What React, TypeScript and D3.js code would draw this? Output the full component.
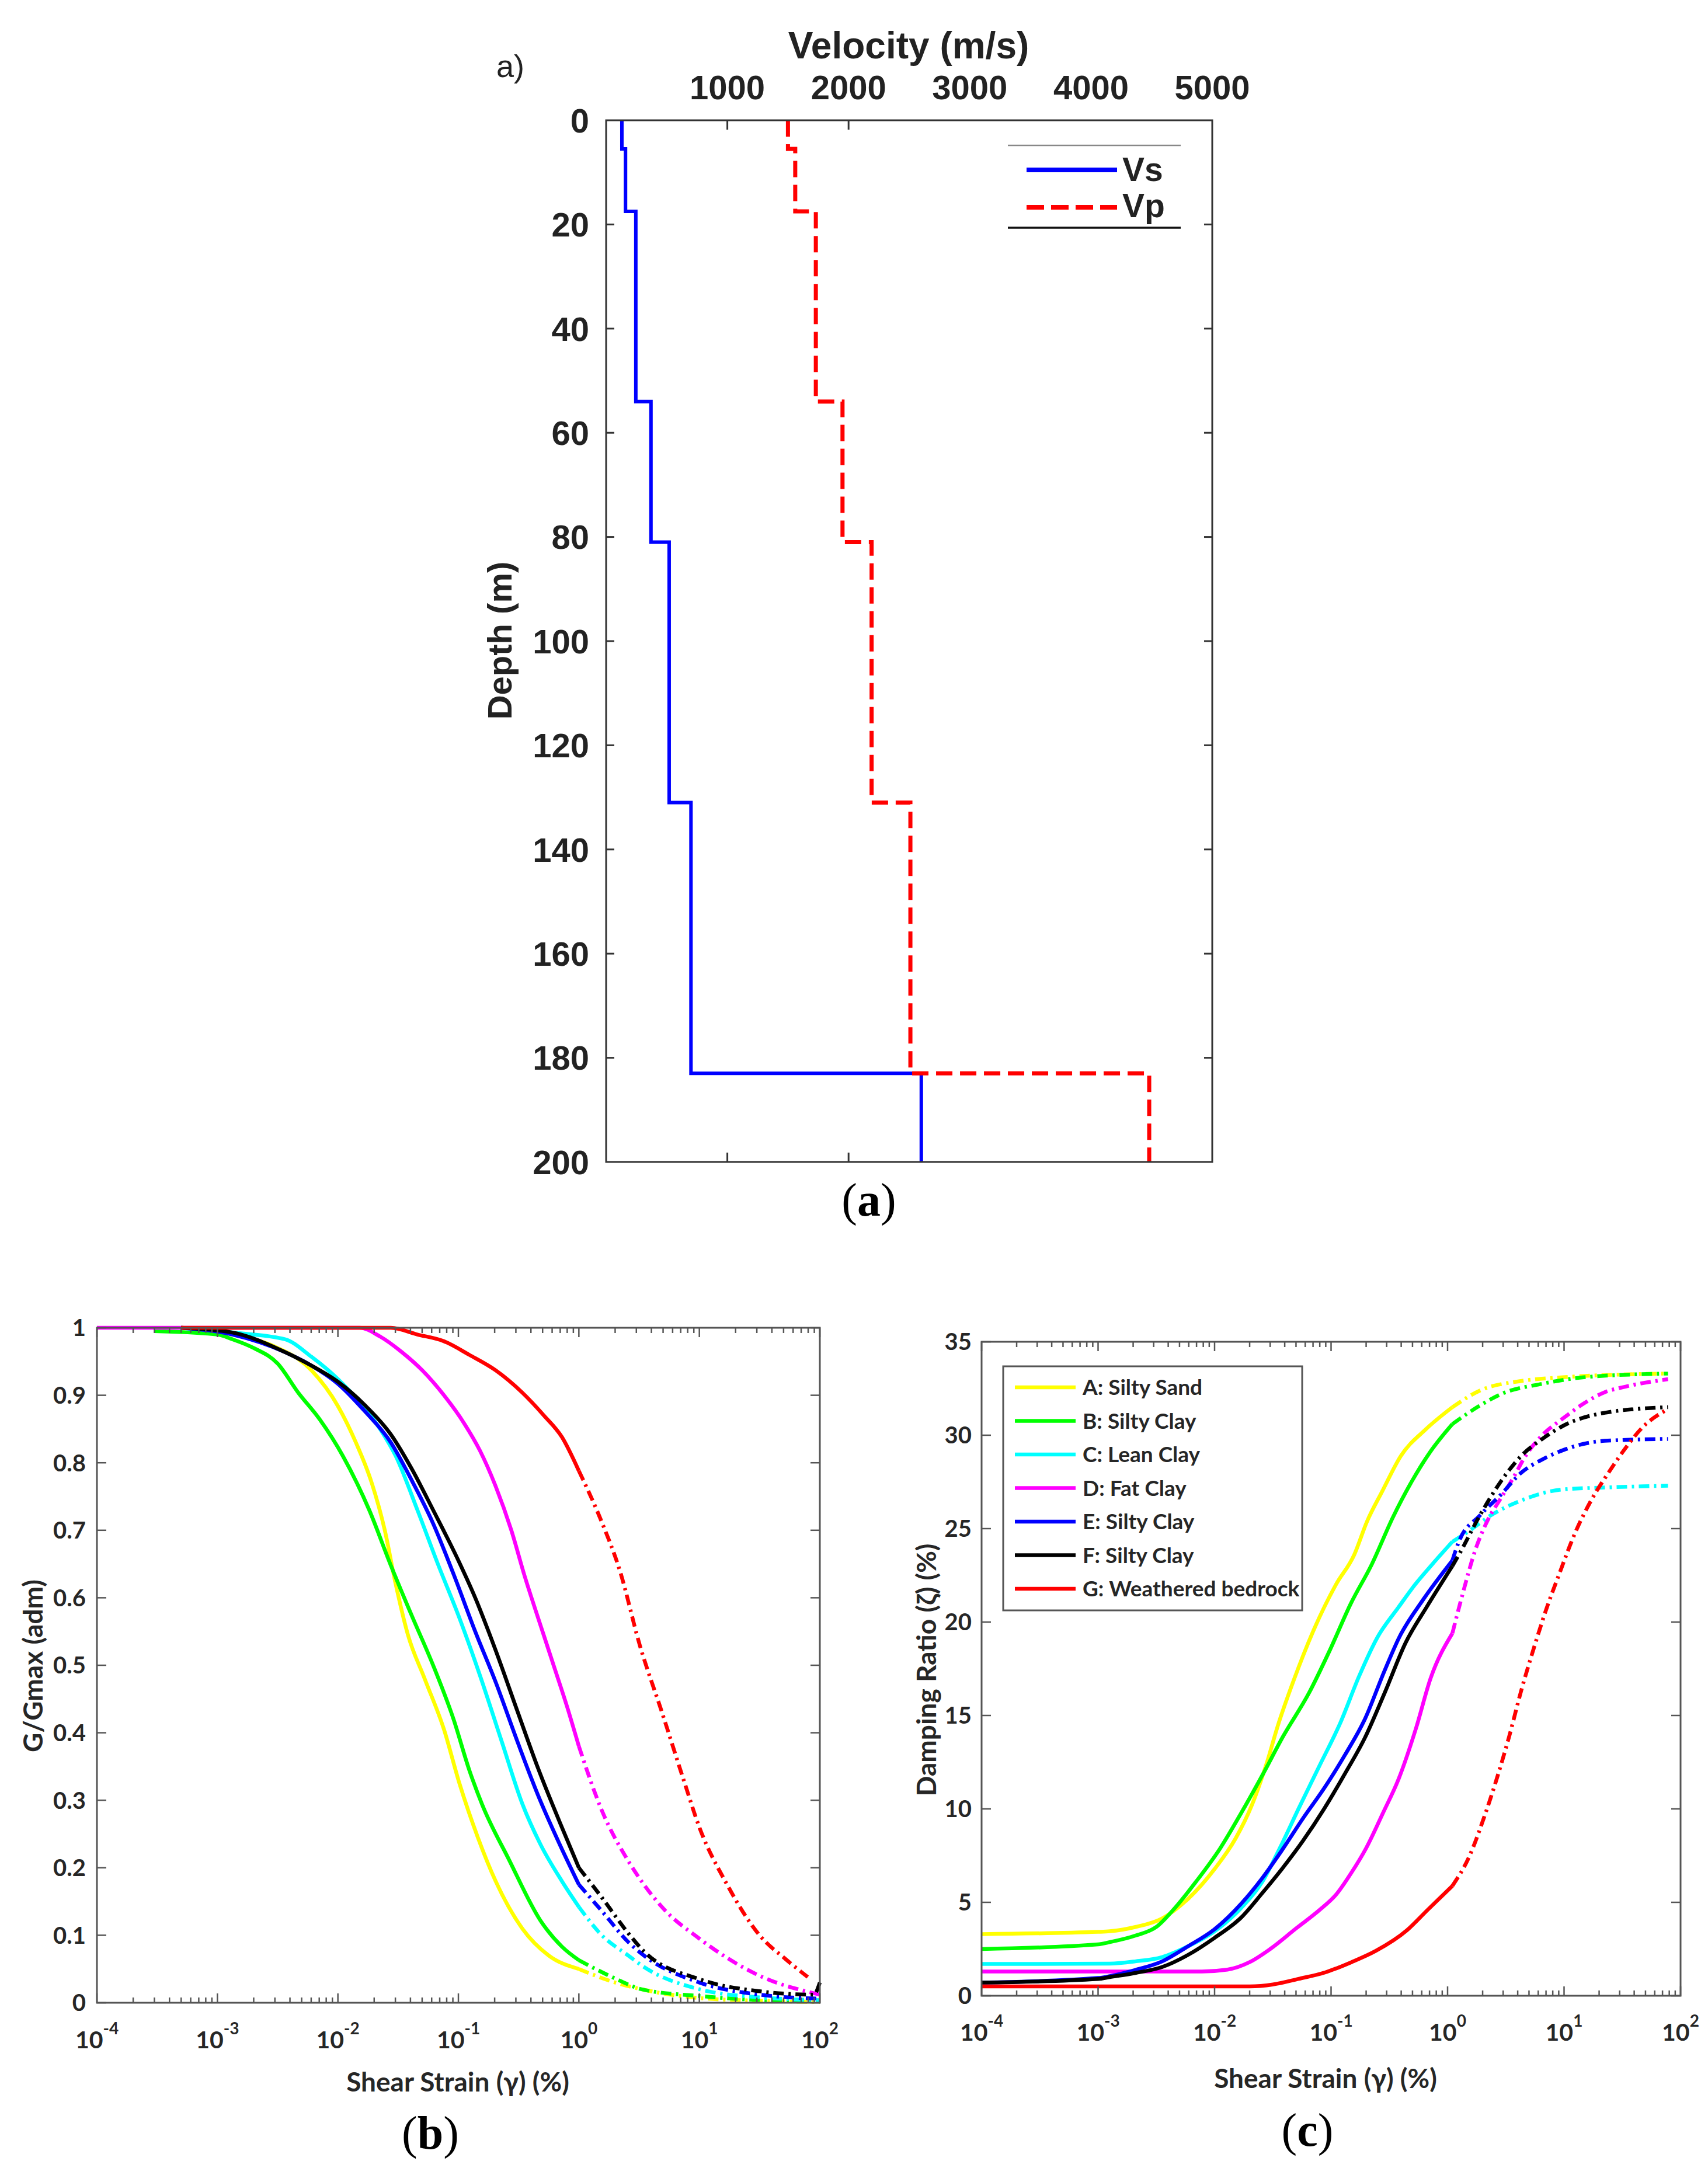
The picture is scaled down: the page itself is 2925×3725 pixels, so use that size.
import React from 'react';
import * as d3 from 'd3';

const W = 2925;
const H = 3725;

// ---------- Panel (a): velocity profile ----------
const layerDepths = [0, 5.5, 17.5, 54, 81, 131, 183, 200];
const vsValues = [130, 160, 245, 370, 520, 700, 2600];
const vpValues = [1500, 1560, 1730, 1950, 2190, 2510, 4480];
const velocityLabels = [1000, 2000, 3000, 4000, 5000];
const velocityTickMarks = [1000, 2000];
const depthTicks = [0, 20, 40, 60, 80, 100, 120, 140, 160, 180, 200];

// ---------- Soils (legend order) ----------
const soilNames = [
  'A: Silty Sand',
  'B: Silty Clay',
  'C: Lean Clay',
  'D: Fat Clay',
  'E: Silty Clay',
  'F: Silty Clay',
  'G: Weathered bedrock',
];
const soilColors = ['#ffff00', '#00ff00', '#00ffff', '#ff00ff', '#0000ff', '#000000', '#ff0000'];

type Pt = [number, number];

// ---------- Panel (b): G/Gmax vs shear strain (%) ----------
const gA: Pt[] = [[0.0005, 1.0], [0.001, 0.995], [0.00133, 0.99], [0.00282, 0.974], [0.00603, 0.937], [0.01, 0.884], [0.0141, 0.83], [0.0191, 0.77], [0.0245, 0.70], [0.0302, 0.62], [0.038, 0.546], [0.0525, 0.48], [0.0759, 0.405], [0.102, 0.325], [0.145, 0.245], [0.204, 0.18], [0.339, 0.11], [0.562, 0.07], [1, 0.05], [2, 0.03], [3.31, 0.02], [10, 0.007], [31.6, 0.003], [100, 0.001]];
const gB: Pt[] = [[0.0003, 0.995], [0.001, 0.99], [0.00133, 0.983], [0.002, 0.97], [0.00316, 0.947], [0.00468, 0.904], [0.00708, 0.864], [0.011, 0.81], [0.0182, 0.73], [0.0275, 0.648], [0.0407, 0.575], [0.0617, 0.50], [0.0912, 0.42], [0.123, 0.345], [0.158, 0.293], [0.263, 0.212], [0.479, 0.122], [0.724, 0.083], [1, 0.063], [2, 0.036], [3.31, 0.02], [10, 0.01], [31.6, 0.004], [100, 0.002]];
const gC: Pt[] = [[0.0005, 1.0], [0.00133, 0.993], [0.00363, 0.983], [0.00603, 0.957], [0.01, 0.924], [0.0151, 0.89], [0.0224, 0.85], [0.0302, 0.81], [0.0457, 0.73], [0.0676, 0.65], [0.102, 0.57], [0.151, 0.485], [0.229, 0.387], [0.339, 0.295], [0.479, 0.235], [0.724, 0.18], [1, 0.142], [1.55, 0.10], [2.57, 0.07], [3.47, 0.053], [10, 0.02], [31.6, 0.008], [100, 0.004]];
const gD: Pt[] = [[0.0001, 1.0], [0.0151, 1.0], [0.0224, 0.987], [0.0339, 0.964], [0.0501, 0.937], [0.0759, 0.90], [0.112, 0.858], [0.151, 0.818], [0.204, 0.765], [0.275, 0.70], [0.355, 0.632], [0.479, 0.56], [0.617, 0.50], [0.794, 0.44], [1, 0.38], [1.55, 0.285], [2.57, 0.21], [3.47, 0.175], [5, 0.14], [10, 0.095], [31.6, 0.04], [100, 0.012]];
const gE: Pt[] = [[0.0005, 1.0], [0.00133, 0.99], [0.00363, 0.964], [0.00603, 0.944], [0.01, 0.917], [0.0166, 0.877], [0.0275, 0.83], [0.0407, 0.775], [0.0617, 0.71], [0.0912, 0.635], [0.138, 0.55], [0.204, 0.475], [0.309, 0.387], [0.457, 0.308], [0.692, 0.235], [1, 0.175], [1.55, 0.136], [2.57, 0.09], [3.47, 0.07], [10, 0.03], [31.6, 0.012], [100, 0.006]];
const gF: Pt[] = [[0.0005, 1.0], [0.00133, 0.993], [0.00363, 0.964], [0.00603, 0.944], [0.01, 0.92], [0.0166, 0.886], [0.0275, 0.842], [0.0407, 0.792], [0.0617, 0.73], [0.102, 0.652], [0.138, 0.60], [0.204, 0.522], [0.309, 0.432], [0.457, 0.348], [0.692, 0.268], [1, 0.20], [1.55, 0.156], [2.57, 0.103], [3.47, 0.076], [10, 0.035], [31.6, 0.017], [89, 0.012], [100, 0.03]];
const gG: Pt[] = [[0.0005, 1.0], [0.0275, 1.0], [0.0457, 0.99], [0.0759, 0.98], [0.123, 0.96], [0.204, 0.937], [0.339, 0.904], [0.513, 0.87], [0.724, 0.838], [1, 0.788], [1.55, 0.712], [2.19, 0.64], [3.2, 0.53], [4.9, 0.43], [7.41, 0.33], [10, 0.26], [17, 0.175], [31.6, 0.10], [52.5, 0.064], [79.4, 0.038]];
const gSeries = [gA, gB, gC, gD, gE, gF, gG];
const gTicks = [0, 0.1, 0.2, 0.3, 0.4, 0.5, 0.6, 0.7, 0.8, 0.9, 1];

// ---------- Panel (c): damping ratio (%) vs shear strain (%) ----------
const dA: Pt[] = [[0.0001, 3.3], [0.001, 3.42], [0.00126, 3.45], [0.00209, 3.68], [0.00355, 4.14], [0.00589, 5.17], [0.01, 6.78], [0.0151, 8.4], [0.0209, 10.2], [0.0282, 12.5], [0.0347, 14.4], [0.0479, 16.9], [0.0724, 19.7], [0.11, 22.0], [0.158, 23.6], [0.204, 25.4], [0.275, 27.0], [0.398, 28.9], [0.646, 30.3], [1.1, 31.5], [1.91, 32.4], [4.27, 32.9], [9.77, 33.1], [78, 33.3]];
const dB: Pt[] = [[0.0001, 2.5], [0.001, 2.75], [0.00126, 2.87], [0.00209, 3.22], [0.00316, 3.68], [0.00457, 4.7], [0.00692, 6.1], [0.0112, 7.9], [0.017, 9.8], [0.0257, 11.8], [0.0389, 13.9], [0.0646, 16.2], [0.0977, 18.5], [0.148, 21.0], [0.224, 23.1], [0.339, 25.6], [0.49, 27.5], [0.708, 29.1], [1.1, 30.6], [1.91, 31.6], [2.88, 32.2], [6.46, 32.75], [14.8, 33.1], [78, 33.3]];
const dC: Pt[] = [[0.0001, 1.7], [0.00126, 1.72], [0.00209, 1.84], [0.00355, 2.07], [0.00589, 2.64], [0.01, 3.45], [0.017, 4.71], [0.0257, 6.1], [0.0363, 7.9], [0.0525, 10.0], [0.0794, 12.3], [0.12, 14.6], [0.174, 17.1], [0.251, 19.2], [0.38, 20.8], [0.525, 22.0], [0.741, 23.1], [1.1, 24.3], [1.55, 24.9], [2.34, 25.7], [4.27, 26.5], [9.77, 27.1], [22.4, 27.2], [78, 27.3]];
const dD: Pt[] = [[0.0001, 1.3], [0.0078, 1.3], [0.0129, 1.4], [0.02, 1.8], [0.03, 2.5], [0.05, 3.6], [0.08, 4.6], [0.11, 5.4], [0.15, 6.6], [0.2, 7.9], [0.28, 9.8], [0.38, 11.6], [0.535, 14.3], [0.716, 17.0], [1.1, 19.4], [1.36, 21.6], [1.74, 23.9], [2.23, 25.5], [2.85, 26.6], [3.65, 27.7], [4.68, 28.9], [6.49, 30.0], [9.8, 30.9], [14.8, 31.7], [22.3, 32.3], [33.7, 32.6], [78, 33.0]];
const dE: Pt[] = [[0.0001, 0.7], [0.001, 0.95], [0.00126, 1.05], [0.00209, 1.38], [0.00355, 1.84], [0.00589, 2.64], [0.01, 3.56], [0.017, 4.94], [0.0257, 6.3], [0.038, 7.8], [0.0575, 9.5], [0.0871, 11.1], [0.132, 12.9], [0.195, 14.8], [0.288, 17.4], [0.386, 19.2], [0.617, 21.2], [1.1, 23.3], [1.25, 24.3], [1.89, 25.7], [2.85, 26.8], [4.3, 28.0], [6.5, 28.7], [9.8, 29.2], [22.3, 29.7], [78, 29.8]];
const dF: Pt[] = [[0.0001, 0.7], [0.001, 0.9], [0.00126, 1.0], [0.00209, 1.22], [0.00355, 1.54], [0.00589, 2.18], [0.01, 3.1], [0.017, 4.2], [0.0257, 5.5], [0.038, 6.8], [0.0575, 8.3], [0.0871, 10.0], [0.132, 11.9], [0.195, 13.8], [0.288, 16.2], [0.437, 18.9], [0.661, 20.8], [1.1, 23.0], [1.25, 23.6], [1.89, 25.7], [2.85, 27.5], [4.3, 28.9], [6.5, 29.8], [9.8, 30.5], [22.3, 31.2], [78, 31.5]];
const dG: Pt[] = [[0.0001, 0.5], [0.02, 0.5], [0.0316, 0.6], [0.0525, 0.9], [0.0891, 1.25], [0.15, 1.8], [0.242, 2.4], [0.447, 3.5], [0.676, 4.6], [1.1, 5.88], [1.54, 7.47], [2.05, 9.52], [2.63, 11.57], [3.37, 13.85], [4.3, 16.36], [5.5, 18.6], [7.05, 20.7], [9.0, 22.5], [12.5, 24.8], [17.4, 26.6], [24.1, 28.0], [33.6, 29.3], [46.8, 30.4], [78, 31.4]];
const dSeries = [dA, dB, dC, dD, dE, dF, dG];
const dTicks = [0, 5, 10, 15, 20, 25, 30, 35];

const strainDomain = [1e-4, 1e2];

const SANS_A = '"Liberation Sans", Arial, sans-serif';
const SANS_BC = 'Lato, "Open Sans", sans-serif';
const SERIF = '"Liberation Serif", "Times New Roman", serif';
const AX_COLOR = '#262626';

type LogPanelProps = {
  x0: number; x1: number; y0: number; y1: number;
  yMax: number; yTicks: number[]; yFmt: (v: number) => string;
  series: Pt[][]; solidLimit: number;
  yLabel: string; yLabelX: number; yLabelY: number;
  xLabel: string; xLabelX: number; xLabelY: number;
  tickLabelBaseline: number; yTickRight: number;
};

function LogPanel(p: LogPanelProps) {
  const x = d3.scaleLog().domain(strainDomain).range([p.x0, p.x1]);
  const y = d3.scaleLinear().domain([0, p.yMax]).range([p.y1, p.y0]);
  const line = d3.line<Pt>().x(d => x(d[0])).y(d => y(d[1])).curve(d3.curveMonotoneX);
  const allTicks = x.ticks();
  const isMajor = (t: number) => Math.abs(Math.log10(t) - Math.round(Math.log10(t))) < 1e-6;
  const majors = allTicks.filter(isMajor);
  return (
    <g>
      {p.series.map((s, i) => {
        const solid = s.filter(d => d[0] <= p.solidLimit);
        const dashed = s.filter(d => d[0] >= p.solidLimit);
        return (
          <g key={i}>
            <path d={line(solid) || ''} fill="none" stroke={soilColors[i]} strokeWidth={6.5} strokeLinejoin="round" />
            <path d={line(dashed) || ''} fill="none" stroke={soilColors[i]} strokeWidth={6.5} strokeDasharray="18 8 4 8" />
          </g>
        );
      })}
      <rect x={p.x0} y={p.y0} width={p.x1 - p.x0} height={p.y1 - p.y0} fill="none" stroke="#555" strokeWidth={3} />
      {allTicks.map((t, i) => {
        const len = isMajor(t) ? 16 : 9;
        const xx = x(t);
        return (
          <g key={'xt' + i}>
            <line x1={xx} x2={xx} y1={p.y1} y2={p.y1 - len} stroke="#555" strokeWidth={2.5} />
            <line x1={xx} x2={xx} y1={p.y0} y2={p.y0 + len} stroke="#555" strokeWidth={2.5} />
          </g>
        );
      })}
      {p.yTicks.map((t, i) => (
        <g key={'yt' + i}>
          <line x1={p.x0} x2={p.x0 + 16} y1={y(t)} y2={y(t)} stroke="#555" strokeWidth={2.5} />
          <line x1={p.x1} x2={p.x1 - 16} y1={y(t)} y2={y(t)} stroke="#555" strokeWidth={2.5} />
          <text x={p.yTickRight} y={y(t)} dy="0.36em" textAnchor="end" fontFamily={SANS_BC} fontWeight={700} fontSize={40} fill={AX_COLOR}>
            {p.yFmt(t)}
          </text>
        </g>
      ))}
      {majors.map((t, i) => (
        <text key={'xl' + i} x={x(t)} y={p.tickLabelBaseline} textAnchor="middle" fontFamily={SANS_BC} fontWeight={700} fontSize={41} fill={AX_COLOR}>
          10<tspan dy={-24} fontSize={28}>{String(Math.round(Math.log10(t)))}</tspan>
        </text>
      ))}
      <text x={p.xLabelX} y={p.xLabelY} textAnchor="middle" fontFamily={SANS_BC} fontWeight={700} fontSize={46} fill={AX_COLOR}>
        {p.xLabel}
      </text>
      <text transform={`translate(${p.yLabelX},${p.yLabelY}) rotate(-90)`} textAnchor="middle" dy="0.36em" fontFamily={SANS_BC} fontWeight={700} fontSize={46} fill={AX_COLOR}>
        {p.yLabel}
      </text>
    </g>
  );
}

export default function App() {
  const ax = d3.scaleLinear().domain([0, 5000]).range([1038, 2076]);
  const ay = d3.scaleLinear().domain([0, 200]).range([206, 1990]);
  const stepPts = (vals: number[]): Pt[] =>
    vals.flatMap((v, i) => [[v, layerDepths[i]], [v, layerDepths[i + 1]]] as Pt[]);
  const aLine = d3.line<Pt>().x(d => ax(d[0])).y(d => ay(d[1]));
  const [axL, axR] = ax.range();
  const [ayT, ayB] = ay.range();

  const legX = 1718, legY = 2340, legW = 512, legH = 418;
  const legRow0 = 2376, legRowStep = 57.5;

  return (
    <svg width={W} height={H} viewBox={`0 0 ${W} ${H}`} style={{ position: 'absolute', left: 0, top: 0, background: '#fff' }}>
      <rect x={0} y={0} width={W} height={H} fill="#fff" />

      {/* ===== Panel (a) ===== */}
      <g>
        <text x={850} y={132} fontFamily={SANS_A} fontSize={54} fill="#222">a)</text>
        <text x={1556} y={100} textAnchor="middle" fontFamily={SANS_A} fontWeight={700} fontSize={64} fill="#222">Velocity (m/s)</text>
        {velocityLabels.map((v, i) => (
          <text key={i} x={ax(v)} y={170} textAnchor="middle" fontFamily={SANS_A} fontWeight={700} fontSize={58} fill="#222">{v}</text>
        ))}
        {depthTicks.map((d, i) => (
          <g key={i}>
            <text x={1009} y={ay(d)} dy="0.36em" textAnchor="end" fontFamily={SANS_A} fontWeight={700} fontSize={58} fill="#222">{d}</text>
            {d > 0 && d < 200 && (
              <>
                <line x1={axL} x2={axL + 14} y1={ay(d)} y2={ay(d)} stroke="#333" strokeWidth={3} />
                <line x1={axR} x2={axR - 14} y1={ay(d)} y2={ay(d)} stroke="#333" strokeWidth={3} />
              </>
            )}
          </g>
        ))}
        {velocityTickMarks.map((v, i) => (
          <g key={i}>
            <line x1={ax(v)} x2={ax(v)} y1={ayT} y2={ayT + 16} stroke="#333" strokeWidth={3} />
            <line x1={ax(v)} x2={ax(v)} y1={ayB} y2={ayB - 16} stroke="#333" strokeWidth={3} />
          </g>
        ))}
        <text transform={`translate(855,1097) rotate(-90)`} textAnchor="middle" dy="0.36em" fontFamily={SANS_A} fontWeight={700} fontSize={58} fill="#222">Depth (m)</text>

        <path d={aLine(stepPts(vsValues)) || ''} fill="none" stroke="#0000ff" strokeWidth={6} />
        <path d={aLine(stepPts(vpValues)) || ''} fill="none" stroke="#ff0000" strokeWidth={7} strokeDasharray="28 13" />
        <rect x={axL} y={ayT} width={axR - axL} height={ayB - ayT} fill="none" stroke="#333" strokeWidth={3} />

        <line x1={1726} x2={2022} y1={249} y2={249} stroke="#888" strokeWidth={2.5} />
        <line x1={1726} x2={2022} y1={390} y2={390} stroke="#111" strokeWidth={3.5} />
        <line x1={1758} x2={1913} y1={291} y2={291} stroke="#0000ff" strokeWidth={8} />
        <text x={1922} y={310} fontFamily={SANS_A} fontWeight={700} fontSize={57} fill="#222">Vs</text>
        <line x1={1758} x2={1913} y1={355} y2={355} stroke="#ff0000" strokeWidth={8} strokeDasharray="30 12" />
        <text x={1922} y={372} fontFamily={SANS_A} fontWeight={700} fontSize={57} fill="#222">Vp</text>

        <text x={1488} y={2082} textAnchor="middle" fontFamily={SERIF} fontSize={80} fill="#000">
          (<tspan fontWeight={700}>a</tspan>)
        </text>
      </g>

      {/* ===== Panel (b) ===== */}
      <LogPanel
        x0={166} x1={1404} y0={2274} y1={3430}
        yMax={1} yTicks={gTicks} yFmt={d3.format('.1~f')}
        series={gSeries} solidLimit={1}
        yLabel="G/Gmax (adm)" yLabelX={56} yLabelY={2853}
        xLabel="Shear Strain (γ) (%)" xLabelX={784} xLabelY={3582}
        tickLabelBaseline={3508} yTickRight={147}
      />
      <text x={737} y={3680} textAnchor="middle" fontFamily={SERIF} fontSize={80} fill="#000">
        (<tspan fontWeight={700}>b</tspan>)
      </text>

      {/* ===== Panel (c) ===== */}
      <LogPanel
        x0={1681} x1={2878} y0={2298} y1={3418}
        yMax={35} yTicks={dTicks} yFmt={d3.format('d')}
        series={dSeries} solidLimit={1.1}
        yLabel="Damping Ratio (ζ) (%)" yLabelX={1586} yLabelY={2860}
        xLabel="Shear Strain (γ) (%)" xLabelX={2270} xLabelY={3576}
        tickLabelBaseline={3495} yTickRight={1664}
      />
      <g>
        <rect x={legX} y={legY} width={legW} height={legH} fill="#fff" stroke="#555" strokeWidth={3} />
        {soilNames.map((n, i) => {
          const yy = legRow0 + i * legRowStep;
          return (
            <g key={i}>
              <line x1={1738} x2={1842} y1={yy} y2={yy} stroke={soilColors[i]} strokeWidth={6.5} />
              <text x={1854} y={yy} dy="0.36em" fontFamily={SANS_BC} fontWeight={700} fontSize={37} fill={AX_COLOR}>{n}</text>
            </g>
          );
        })}
      </g>
      <text x={2239} y={3675} textAnchor="middle" fontFamily={SERIF} fontSize={80} fill="#000">
        (<tspan fontWeight={700}>c</tspan>)
      </text>
    </svg>
  );
}
